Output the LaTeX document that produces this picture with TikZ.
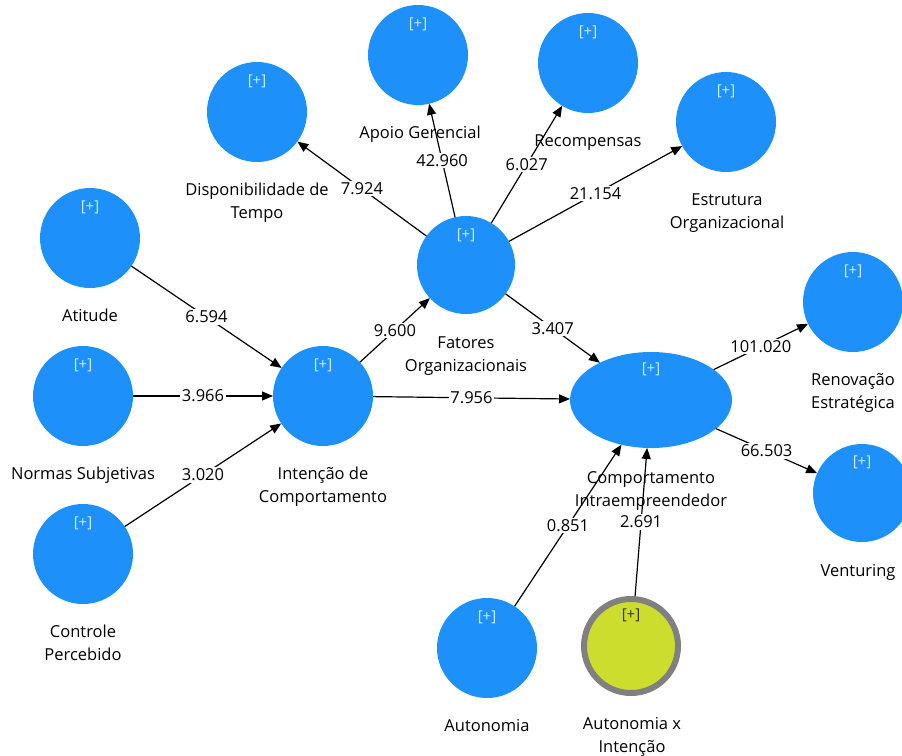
\documentclass[tikz,border=0pt]{standalone}
\usepackage{fontspec}
\setmainfont{Open Sans}
\usetikzlibrary{arrows.meta,shapes.geometric}

\definecolor{plsblue}{RGB}{30,144,250}
\definecolor{modfill}{RGB}{205,221,45}
\definecolor{modedge}{RGB}{128,128,128}
\definecolor{plusmark}{RGB}{205,236,255}

\newcommand{\lblfont}{\fontsize{16.5}{23}\selectfont}
\newcommand{\markfont}{\fontsize{15}{17}\selectfont}

\begin{document}
\begin{tikzpicture}[x=1pt,y=-1pt,
  lv/.style={circle,fill=plsblue,minimum size=100pt,inner sep=0pt,outer sep=0pt},
  lvell/.style={ellipse,fill=plsblue,minimum width=162pt,minimum height=96pt,inner sep=0pt,outer sep=0pt},
  modlv/.style={circle,fill=modfill,draw=modedge,line width=6pt,minimum size=94pt,inner sep=0pt},
  lbl/.style={font=\lblfont,align=center,anchor=base,inner sep=0pt},
  plus/.style={font=\markfont,text=plusmark,inner sep=0pt},
  plusdark/.style={font=\markfont,text=black!80,inner sep=0pt},
  link/.style={draw=black,line width=1.2pt,-{Triangle[length=11pt,width=9pt]}},
  val/.style={font=\lblfont,fill=white,inner sep=1.5pt}]
\useasboundingbox (0,0) rectangle (902,755);
\clip (0,0) rectangle (902,755);

% latent variables
\node[lv] (disp) at (257,112) {};
\node[lv] (apoio) at (418,55) {};
\node[lv] (recomp) at (588,63) {};
\node[lv] (estr) at (726,122) {};
\node[lv,minimum size=98pt] (fat) at (466,265) {};
\node[lv] (atit) at (90,238) {};
\node[lv] (norm) at (83,396) {};
\node[lv] (ctrl) at (83,554) {};
\node[lv] (int) at (323,396) {};
\node[lvell] (comp) at (651,400) {};
\node[lv] (renov) at (853,302) {};
\node[lv,minimum size=98pt] (vent) at (862,493) {};
\node[lv] (auto) at (487,648) {};
\node[modlv] (autoint) at (631,646) {};

% expand markers
\node[plus] (disp-p) at (257,81) {[+]};
\node[plus] (apoio-p) at (418,24) {[+]};
\node[plus] (recomp-p) at (588,32) {[+]};
\node[plus] (estr-p) at (726,91) {[+]};
\node[plus] (fat-p) at (466,235) {[+]};
\node[plus] (atit-p) at (90,207) {[+]};
\node[plus] (norm-p) at (83,365) {[+]};
\node[plus] (ctrl-p) at (83,523) {[+]};
\node[plus] (int-p) at (323,365) {[+]};
\node[plus] (comp-p) at (651,369) {[+]};
\node[plus] (renov-p) at (853,271) {[+]};
\node[plus] (vent-p) at (862,462) {[+]};
\node[plus] (auto-p) at (487,617) {[+]};
\node[plusdark] (autoint-p) at (631,615) {[+]};

% construct names (base = last line's baseline)
\node[lbl] (disp-l) at (257,218) {Disponibilidade de\\Tempo};
\node[lbl] (apoio-l) at (420,138) {Apoio Gerencial};
\node[lbl] (recomp-l) at (588,146) {Recompensas};
\node[lbl] (estr-l) at (727,228) {Estrutura\\Organizacional};
\node[lbl] (fat-l) at (466,371) {Fatores\\Organizacionais};
\node[lbl] (atit-l) at (90,321) {Atitude};
\node[lbl] (norm-l) at (83,479) {Normas Subjetivas};
\node[lbl] (ctrl-l) at (83,660) {Controle\\Percebido};
\node[lbl] (int-l) at (323,502) {Intenção de\\Comportamento};
\node[lbl] (comp-l) at (651,506) {Comportamento\\Intraempreendedor};
\node[lbl] (renov-l) at (853,408) {Renovação\\Estratégica};
\node[lbl] (vent-l) at (858,576) {Venturing};
\node[lbl] (auto-l) at (487,731) {Autonomia};
\node[lbl] (autoint-l) at (632,752) {Autonomia x\\Intenção};

% paths with t values
\draw[link] (fat) -- node[val] (v-disp) {7.924} (disp);
\draw[link] (fat) -- node[val] (v-apoio) {42.960} (apoio);
\draw[link] (fat) -- node[val] (v-recomp) {6.027} (recomp);
\draw[link] (fat) -- node[val] (v-estr) {21.154} (estr);
\draw[link] (atit) -- node[val] (v-atit) {6.594} (int);
\draw[link] (norm) -- node[val] (v-norm) {3.966} (int);
\draw[link] (ctrl) -- node[val] (v-ctrl) {3.020} (int);
\draw[link] (int) -- node[val] (v-fat) {9.600} (fat);
\draw[link] (int) -- node[val] (v-int) {7.956} (comp);
\draw[link] (fat) -- node[val] (v-fatcomp) {3.407} (comp);
\draw[link] (comp) -- node[val] (v-renov) {101.020} (renov);
\draw[link] (comp) -- node[val] (v-vent) {66.503} (vent);
\draw[link] (auto) -- node[val] (v-auto) {0.851} (comp);
\draw[link] (autoint) -- node[val] (v-autoint) {2.691} (comp);
\end{tikzpicture}
\end{document}
